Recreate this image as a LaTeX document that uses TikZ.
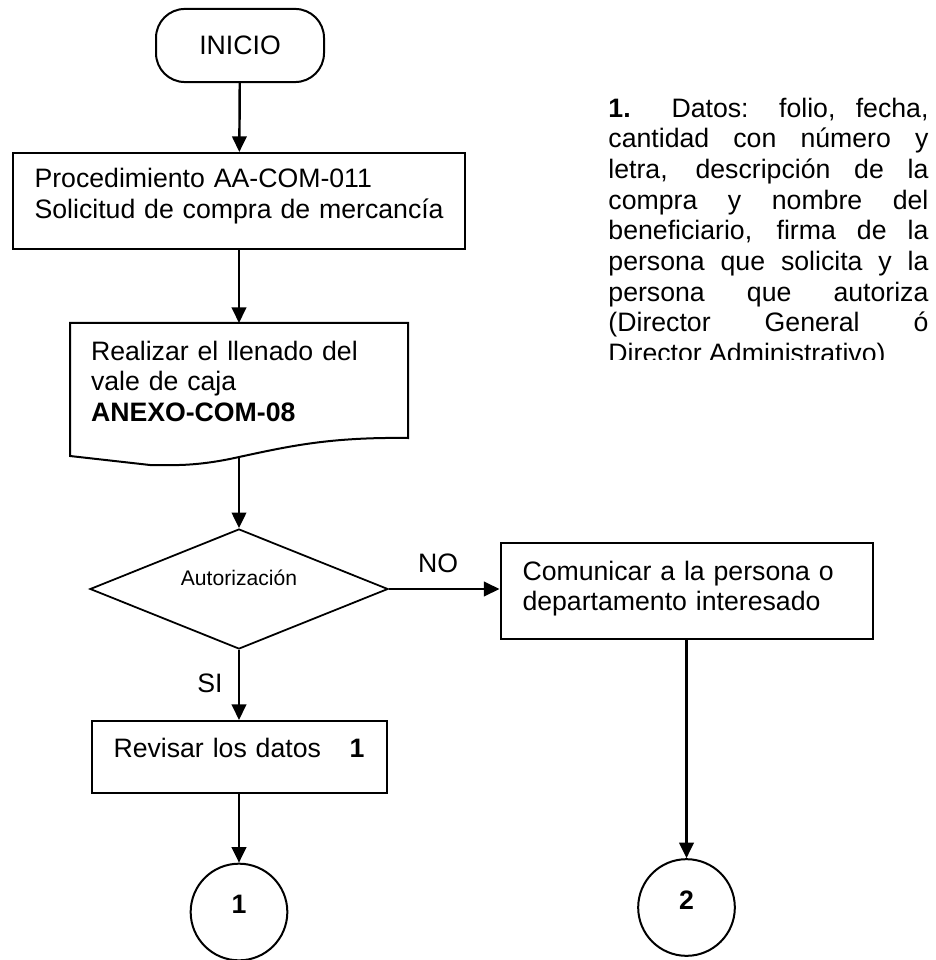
\documentclass[tikz,border=0pt]{standalone}
\usepackage{fontspec}
\setmainfont{Liberation Sans}
\usetikzlibrary{shapes.geometric,arrows.meta,calc}

\begin{document}
\begin{tikzpicture}[x=0.45pt,y=-0.45pt,
    font=\fontsize{12}{13.8}\selectfont,
    caja/.style={draw,line width=0.9pt,inner xsep=9.6pt,inner ysep=0pt,align=left},
    flecha/.style={line width=1.1pt,-{Triangle[length=7pt,width=6.5pt]}},
    conector/.style={draw,circle,line width=0.9pt,minimum size=43.5pt,inner sep=0pt,
      font=\fontsize{12}{13.8}\selectfont\bfseries,text depth=7pt}]
  \useasboundingbox (0,0) rectangle (935,960);

  % Inicio
  \node[draw,line width=0.9pt,rounded corners=13pt,minimum width=75.6pt,minimum height=32.9pt] (inicio) at (240,45.5) {INICIO};

  % Procedimiento
  \node[caja,text width=184pt,text height=15.75pt,text depth=27.45pt] (proc) at (239,201)
    {Procedimiento AA-COM-011\\\mbox{Solicitud de compra de mercancía}};

  % Vale de caja (documento)
  \node[caja,draw=none,text width=133.2pt,inner xsep=9pt,text height=16.2pt,text depth=34.65pt] (vale) at (239,380.5)
    {Realizar el llenado del\\vale de caja\\\textbf{ANEXO-COM-08}};
  \draw[line width=0.9pt] (vale.north west) -- (vale.north east) -- (vale.south east)
    .. controls (330,437) and (290,446) .. (239,457) coordinate (valebot)
    .. controls (195,467) and (170,465) .. (150,465) -- ($(vale.south west)+(0,18)$) -- cycle;

  % Autorizacion
  \node[draw,diamond,aspect=2.48,line width=0.8pt,minimum width=134.1pt,minimum height=54pt,inner sep=0pt,
    font=\fontsize{9.5}{11}\selectfont,text height=7pt,text depth=10.6pt] (autoriza) at (239,589) {Autorización};

  % Rama NO
  \node[caja,text width=147.6pt,inner xsep=9.9pt,text height=16.65pt,text depth=26.55pt] (comunica) at (686.5,591)
    {\mbox{Comunicar a la persona o}\\departamento interesado};
  \node (no) at (438,563) {NO};

  % Rama SI
  \node[caja,text width=112.95pt,inner xsep=9.9pt,text height=16.2pt,text depth=16.2pt] (revisa) at (239,757)
    {Revisar los datos\hfill\textbf{1}\hspace*{2pt}};
  \node (si) at (210,683) {SI};

  % Conectores
  \node[conector] (con1) at (239,912) {1};
  \node[conector] (con2) at (686.5,907.5) {2};

  % Nota
  \begin{scope}
    \clip (600,90) rectangle (935,359);
    \node[anchor=north west,inner sep=0pt,text width=144pt,align=justify,text height=9pt] (nota) at (608,96.7)
      {\tolerance=10000 \textbf{1.} Datos: folio, fecha,\linebreak cantidad con número y\linebreak
       letra, descripción de la\linebreak compra y nombre del\linebreak beneficiario, firma de la\linebreak
       persona que solicita y la\linebreak persona que autoriza\linebreak (Director General ó\linebreak
       Director Administrativo)};
  \end{scope}

  % Flechas
  \draw[flecha] (inicio) -- (proc);
  \draw[flecha] (proc) -- (vale);
  \draw[flecha] (valebot) -- (autoriza);
  \draw[flecha] (autoriza.east) -- (autoriza.east -| comunica.west);
  \draw[flecha] (autoriza) -- (revisa);
  \draw[flecha] (revisa) -- (con1);
  \draw[flecha] (comunica) -- (con2);
\end{tikzpicture}
\end{document}
